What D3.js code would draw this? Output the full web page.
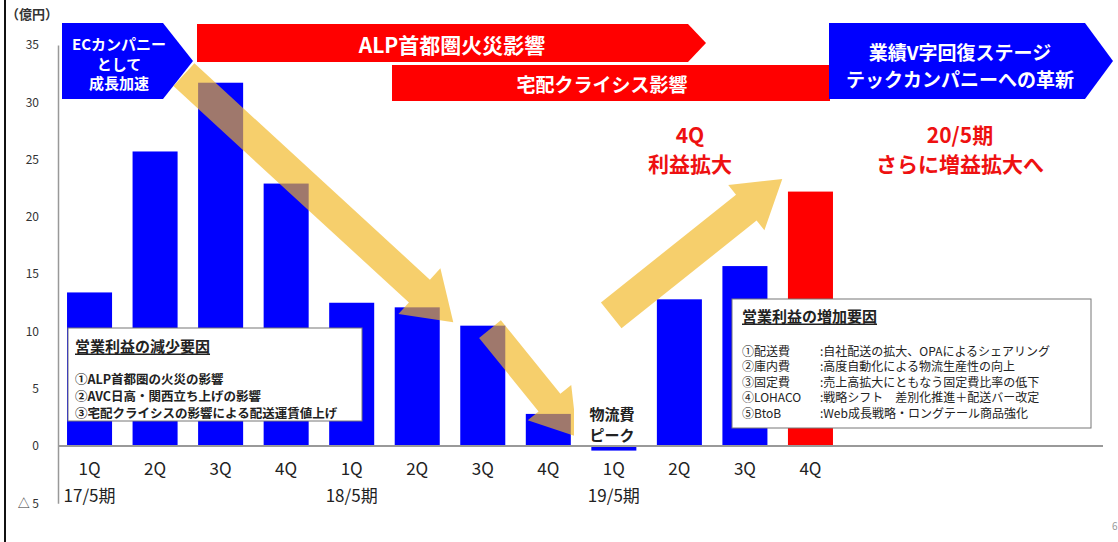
<!DOCTYPE html>
<html>
<head>
<meta charset="utf-8">
<script src="https://cdn.jsdelivr.net/npm/d3@7"></script>
<style>
  body { margin: 0; background: #fff; }
  svg { display: block; font-family: "Noto Sans CJK JP", "Noto Sans", sans-serif; }
</style>
</head>
<body>
<div id="chart"></div>
<script>
// Data
const quarters = ["1Q", "2Q", "3Q", "4Q", "1Q", "2Q", "3Q", "4Q", "1Q", "2Q", "3Q", "4Q"];
const periodLabels = ["17/5期", "18/5期", "19/5期"];
const periodStart = [0, 4, 8];
const profit = [13.4, 25.7, 31.7, 22.9, 12.5, 12.1, 10.5, 2.8, -0.4, 12.8, 15.7, 22.2];
const forecast = [false, false, false, false, false, false, false, false, false, false, false, true];
const yTicks = [-5, 0, 5, 10, 15, 20, 25, 30, 35];

const decreaseTitle = "営業利益の減少要因";
const decreaseItems = ["①ALP首都圏の火災の影響", "②AVC日高・関西立ち上げの影響", "③宅配クライシスの影響による配送運賃値上げ"];
const increaseTitle = "営業利益の増加要因";
const increaseKeys = ["①配送費", "②庫内費", "③固定費", "④LOHACO", "⑤BtoB"];
const increaseText = [":自社配送の拡大、OPAによるシェアリング", ":高度自動化による物流生産性の向上",
  ":売上高拡大にともなう固定費比率の低下", ":戦略シフト　差別化推進＋配送バー改定", ":Web成長戦略・ロングテール商品強化"];

// trend arrows in (quarter index, value) units
const trendArrows = [
  {from: [1.44, 32.4], to: [5.55, 10.8], w: 31, hw: 62, hl: 46},
  {from: [6.11, 10.2], to: [7.44, 0.8], w: 28, hw: 56, hl: 44},
  {from: [7.96, 11.4], to: [10.57, 23.3], w: 33, hw: 58, hl: 46}
];

const W = 1118, H = 542;
const blue = "#0000ff", red = "#ff0000";

const svg = d3.select("#chart").append("svg")
  .attr("width", W)
  .attr("height", H);

// Scales
const x = d3.scaleBand()
  .domain(d3.range(quarters.length))
  .range([57, 843])
  .paddingInner(0.313)
  .paddingOuter(0.153);

const y = d3.scaleLinear()
  .domain([-5, 35])
  .range([503.3, 44.9]);

const xPos = i => x(0) + x.bandwidth() / 2 + i * x.step();

// left frame line
svg.append("line")
  .attr("x1", 5).attr("x2", 5).attr("y1", 0).attr("y2", H)
  .attr("stroke", "#111").attr("stroke-width", 2);

// Y axis
const yAxis = svg.append("g")
  .attr("transform", "translate(58,0)")
  .call(d3.axisLeft(y).tickValues(yTicks).tickSize(0).tickPadding(19)
    .tickFormat(d => d < 0 ? "△ " + (-d) : d));
yAxis.select(".domain").attr("stroke", "#999").attr("stroke-width", 1.5);
yAxis.selectAll("text")
  .style("font-family", "'Noto Sans CJK JP', sans-serif")
  .style("font-size", "12px")
  .attr("fill", "#333");

svg.append("text")
  .attr("x", 6).attr("y", 13)
  .attr("dominant-baseline", "central")
  .style("font-size", "13px").style("font-weight", "bold")
  .attr("fill", "#333")
  .text("（億円）");

// Bars
svg.selectAll("rect.bar")
  .data(profit)
  .enter()
  .append("rect")
  .attr("class", "bar")
  .attr("x", (d, i) => x(i))
  .attr("width", x.bandwidth())
  .attr("y", d => y(Math.max(0, d)))
  .attr("height", d => Math.abs(y(d) - y(0)))
  .attr("fill", (d, i) => forecast[i] ? red : blue);

// zero line
svg.append("line")
  .attr("x1", 58).attr("x2", 1103)
  .attr("y1", y(0)).attr("y2", y(0))
  .attr("stroke", "#999").attr("stroke-width", 2);

// Category labels
svg.selectAll("text.q")
  .data(quarters)
  .enter()
  .append("text")
  .attr("class", "q")
  .attr("x", (d, i) => xPos(i))
  .attr("y", 467)
  .attr("text-anchor", "middle")
  .attr("dominant-baseline", "central")
  .style("font-size", "17px")
  .attr("fill", "#222")
  .text(d => d);

svg.selectAll("text.period")
  .data(periodLabels)
  .enter()
  .append("text")
  .attr("class", "period")
  .attr("x", (d, i) => xPos(periodStart[i]))
  .attr("y", 494)
  .attr("text-anchor", "middle")
  .attr("dominant-baseline", "central")
  .style("font-size", "17px")
  .attr("fill", "#222")
  .text(d => d);

// Trend arrows
function arrowPath(a) {
  const x0 = xPos(a.from[0]), y0 = y(a.from[1]);
  const x1 = xPos(a.to[0]), y1 = y(a.to[1]);
  const len = Math.hypot(x1 - x0, y1 - y0);
  const ux = (x1 - x0) / len, uy = (y1 - y0) / len;
  const px = -uy, py = ux;
  const bx = x1 - ux * a.hl, by = y1 - uy * a.hl;
  const pts = [
    [x0 + px * a.w / 2, y0 + py * a.w / 2],
    [bx + px * a.w / 2, by + py * a.w / 2],
    [bx + px * a.hw / 2, by + py * a.hw / 2],
    [x1, y1],
    [bx - px * a.hw / 2, by - py * a.hw / 2],
    [bx - px * a.w / 2, by - py * a.w / 2],
    [x0 - px * a.w / 2, y0 - py * a.w / 2]
  ];
  return "M" + pts.map(p => p.join(",")).join("L") + "Z";
}

svg.selectAll("path.trend")
  .data(trendArrows)
  .enter()
  .append("path")
  .attr("class", "trend")
  .attr("d", arrowPath)
  .attr("fill", "#f2b620")
  .attr("fill-opacity", 0.66);

// Text boxes
function listBox(bx, by, bw, bh) {
  svg.append("rect")
    .attr("x", bx).attr("y", by).attr("width", bw).attr("height", bh)
    .attr("fill", "#fff").attr("stroke", "#777").attr("stroke-width", 1);
}

listBox(68, 328, 294, 93);
svg.append("text")
  .attr("x", 75).attr("y", 345)
  .attr("dominant-baseline", "central")
  .style("font-size", "15px").style("font-weight", "bold")
  .attr("fill", "#222")
  .attr("text-decoration", "underline")
  .text(decreaseTitle);
svg.selectAll("text.dec")
  .data(decreaseItems)
  .enter()
  .append("text")
  .attr("class", "dec")
  .attr("x", 75)
  .attr("y", (d, i) => 378 + i * 17)
  .attr("dominant-baseline", "central")
  .style("font-size", "12.5px").style("font-weight", "bold")
  .attr("fill", "#222")
  .text(d => d);

listBox(732, 299, 359, 129);
svg.append("text")
  .attr("x", 742).attr("y", 315)
  .attr("dominant-baseline", "central")
  .style("font-size", "15px").style("font-weight", "bold")
  .attr("fill", "#222")
  .attr("text-decoration", "underline")
  .text(increaseTitle);
svg.selectAll("text.incK")
  .data(increaseKeys)
  .enter()
  .append("text")
  .attr("class", "incK")
  .attr("x", 742)
  .attr("y", (d, i) => 350 + i * 15.5)
  .attr("dominant-baseline", "central")
  .style("font-size", "12px")
  .attr("fill", "#222")
  .text(d => d);
svg.selectAll("text.incT")
  .data(increaseText)
  .enter()
  .append("text")
  .attr("class", "incT")
  .attr("x", 820)
  .attr("y", (d, i) => 350 + i * 15.5)
  .attr("dominant-baseline", "central")
  .style("font-size", "12px")
  .attr("fill", "#222")
  .text(d => d);

// 物流費ピーク
svg.append("rect")
  .attr("x", 574).attr("y", 396).attr("width", 80).attr("height", 48)
  .attr("fill", "#fff");
svg.selectAll("text.peak")
  .data(["物流費", "ピーク"])
  .enter()
  .append("text")
  .attr("class", "peak")
  .attr("x", 612)
  .attr("y", (d, i) => 413 + i * 21)
  .attr("text-anchor", "middle")
  .attr("dominant-baseline", "central")
  .style("font-size", "15px").style("font-weight", "bold")
  .attr("fill", "#222")
  .text(d => d);

// Banners
function banner(x0, y0, x1, tip, y1, color, lines, cx, ly, fs) {
  const ym = (y0 + y1) / 2;
  svg.append("path")
    .attr("d", `M${x0},${y0}L${x1},${y0}L${tip},${ym}L${x1},${y1}L${x0},${y1}Z`)
    .attr("fill", color);
  lines.forEach((t, i) => {
    svg.append("text")
      .attr("x", cx).attr("y", ly[i])
      .attr("text-anchor", "middle")
      .attr("dominant-baseline", "central")
      .style("font-size", fs + "px").style("font-weight", "bold")
      .attr("fill", "#fff")
      .text(t);
  });
}

banner(197, 24, 688, 706, 62, red, ["ALP首都圏火災影響"], 452, [44], 21);
banner(392, 65, 830, 830, 101, red, ["宅配クライシス影響"], 602, [83], 19);
banner(62, 23, 163, 193, 99, blue, ["ECカンパニー", "として", "成長加速"], 119, [43, 63, 82], 15);
banner(829, 23, 1085, 1113, 99, blue, ["業績V字回復ステージ", "テックカンパニーへの革新"], 960, [51, 78], 19);

// Red callouts
const callouts = [
  {cx: 690, lines: ["4Q", "利益拡大"]},
  {cx: 960, lines: ["20/5期", "さらに増益拡大へ"]}
];
callouts.forEach(c => {
  c.lines.forEach((t, i) => {
    svg.append("text")
      .attr("x", c.cx).attr("y", 134 + i * 29)
      .attr("text-anchor", "middle")
      .attr("dominant-baseline", "central")
      .style("font-size", "21px").style("font-weight", "bold")
      .attr("fill", "#ee1111")
      .text(t);
  });
});

// page number
svg.append("text")
  .attr("x", 1112).attr("y", 530)
  .style("font-size", "10px")
  .attr("fill", "#999")
  .text("6");
</script>
</body>
</html>
